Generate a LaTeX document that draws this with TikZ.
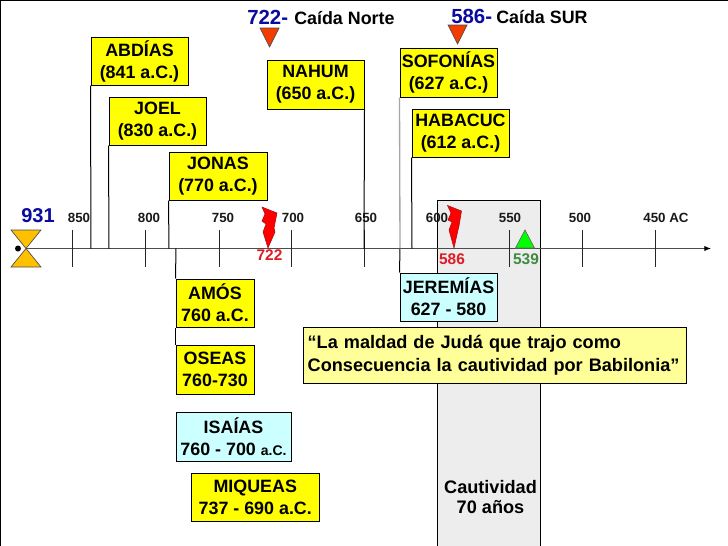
\documentclass[tikz,border=0pt]{standalone}
\usepackage{fontspec}
\usetikzlibrary{arrows.meta}
\setmainfont{Liberation Sans}
\definecolor{bx}{HTML}{FFFF00}
\definecolor{cy}{HTML}{CCFFFF}
\definecolor{lt}{HTML}{FFFF99}
\definecolor{navy}{HTML}{0A0A9C}
\definecolor{tri}{HTML}{F23C00}
\definecolor{rd}{HTML}{E01B24}
\definecolor{gr}{HTML}{3F8A3F}
\definecolor{gold}{HTML}{FFC000}
\tikzset{
 x=0.75pt,y=-0.75pt,
 prophet/.style={draw=black,line width=0.75pt,fill=bx,align=center,inner sep=0pt,font=\bfseries\fontsize{13.4}{16.5}\selectfont,text=black},
 prophetc/.style={prophet,fill=cy},
 tick/.style={draw=black!85,line width=0.75pt},
 yr/.style={font=\bfseries\fontsize{10}{11}\selectfont,inner sep=0pt,text=black!90},
 link/.style={draw=black,line width=0.75pt},
 headlbl/.style={font=\bfseries\fontsize{13.4}{14}\selectfont,inner sep=0pt,anchor=base west},
 headnum/.style={font=\bfseries\fontsize{15.3}{16}\selectfont,inner sep=0pt,anchor=base west,text=navy},
 redt/.style={draw=black!70,line width=0.5pt,fill=tri},
 bolt/.style={draw=rd!70!black,line width=0.4pt,fill=red},
 small/.style={font=\bfseries\fontsize{11.6}{12}\selectfont,inner sep=0pt},
}
\newcommand{\pbox}[7]{\node[#1,minimum width=#4*0.75pt-#3*0.75pt,minimum height=#6*0.75pt-#5*0.75pt] (#2) at ({(#3+#4)/2},{(#5+#6)/2}) {#7};}
\begin{document}
\begin{tikzpicture}
\useasboundingbox (0,0) rectangle (728,546);
\fill[white] (0,0) rectangle (728,546);
\draw[black,line width=1pt] (0.5,546) -- (0.5,0.5) -- (728,0.5);
% grey band
\node[draw=black,line width=0.75pt,fill=black!7,minimum width=103*0.75pt,minimum height=347*0.75pt,inner sep=0pt] (band) at (488.5,373.5) {};
% axis
\coordinate (axL) at (26,248.5);
\coordinate (axR) at (711,248.5);
\draw[draw=black!70,line width=0.75pt,-{Latex[length=5pt,width=4pt,black]}] (axL) -- (axR);
% ticks
\foreach \x/\n in {72/a,145/b,219/c,291/d,364/e,509/f,582/g,655/h}{
 \coordinate (t\n u) at (\x,230); \coordinate (t\n d) at (\x,267);
 \draw[tick] (t\n u) -- (t\n d);
}
% year labels
\foreach \x/\t/\n in {79/850/a,149/800/b,223/750/c,293/700/d,366/650/e,437/600/f,510/550/g,580/500/h,666/450 AC/i}{
 \node[yr] (y\n) at (\x,217.5) {\t};
}
\node[font=\bfseries\fontsize{15}{16}\selectfont,text=navy,inner sep=0pt] (n931) at (38,216) {931};
% hourglass
\fill[gold,draw=black!70,line width=0.5pt] (11,230) -- (41,230) -- (11,267) -- (41,267) -- cycle;
\fill[black] (18,248.5) circle (3);
% upper boxes
\pbox{prophet}{abd}{91}{188}{37}{85}{ABDÍAS\\(841 a.C.)}
\pbox{prophet}{joel}{109}{206}{97}{145}{JOEL\\(830 a.C.)}
\pbox{prophet}{jon}{169}{267}{152}{200}{JONAS\\(770 a.C.)}
\pbox{prophet}{nah}{267}{364}{60}{109}{NAHUM\\(650 a.C.)}
\pbox{prophet}{sof}{400}{497}{48}{97}{SOFONÍAS\\(627 a.C.)}
\pbox{prophet}{hab}{412}{509}{109}{157}{HABACUC\\(612 a.C.)}
\coordinate (fa) at (91,248.5); \coordinate (fj) at (109,248.5); \coordinate (fo) at (169,248.5);
\coordinate (fn) at (364,248.5); \coordinate (fs) at (400,248.5); \coordinate (fh) at (412,248.5);
\draw[link] (abd.south west) -- (fa);
\draw[link] (joel.south west) -- (fj);
\draw[link] (jon.south west) -- (fo);
\draw[link] (nah.south east) -- (fn);
\draw[draw=black!35,line width=1pt] (sof.south west) -- (fs);
\draw[link] (hab.south west) -- (fh);
% lower boxes
\coordinate (fm) at (176,248.5);
\pbox{prophet}{amo}{176}{254}{279}{327}{AMÓS\\760 a.C.}
\pbox{prophet}{ose}{176}{254}{345}{394}{OSEAS\\760-730}
\pbox{prophetc}{isa}{176}{291}{412}{461}{ISAÍAS\\760 - 700 {\fontsize{10.5}{10}\selectfont a.C.}}
\pbox{prophet}{miq}{191.5}{319}{473}{521}{MIQUEAS\\737 - 690 a.C.}
\pbox{prophetc}{jer}{400}{497}{273}{321}{JEREMÍAS\\627 - 580}
\draw[link] (fm) -- (amo.north west);
\draw[link] (amo.south west) -- (ose.north west);
\draw[link] (fs) -- (jer.north west);
% quote
\node[draw=black,line width=0.6pt,fill=lt,minimum width=383*0.75pt,minimum height=56*0.75pt,inner sep=0pt,inner xsep=3.5pt,align=left,text width=383*0.75pt-7pt,font=\bfseries\fontsize{13.6}{17}\selectfont] (quote) at (494.5,355) {“La maldad de Judá que trajo como\\Consecuencia la cautividad por Babilonia”};
\node[inner sep=0pt,align=center,font=\bfseries\fontsize{13.6}{14.6}\selectfont] (caut) at (490.5,497) {Cautividad\\70 años};
% headings
\node[headnum] (h1) at (247,24) {722-};
\node[headlbl] (h1b) at (294,24) {Caída Norte};
\node[headnum] (h2) at (451,23) {586-};
\node[headlbl] (h2b) at (496,23) {Caída SUR};
\draw[redt] (260,28) -- (279,28) -- (269.5,47) -- cycle;
\draw[redt] (448,25) -- (467,25) -- (457.5,44) -- cycle;
% bolts
\draw[bolt] (262,207) -- (277,213) -- (274,228) -- (275,232) -- (268,248) -- (263,232) -- (266,224) -- (262,221) -- (265,214) -- cycle;
\draw[bolt] (447.5,205.5) -- (461.5,211) -- (459,226) -- (458,230) -- (454,248) -- (449,230) -- (452,222) -- (448,220) -- (451,213) -- cycle;
\draw[draw=black!60,fill=green,line width=0.5pt] (525,230) -- (534.5,248) -- (515.5,248) -- cycle;
\node[small,text=rd] (l722) at (269.5,255) {722};
\node[small,text=rd] (l586) at (452,259) {586};
\node[small,text=gr] (l539) at (526,259) {539};
\end{tikzpicture}
\end{document}
